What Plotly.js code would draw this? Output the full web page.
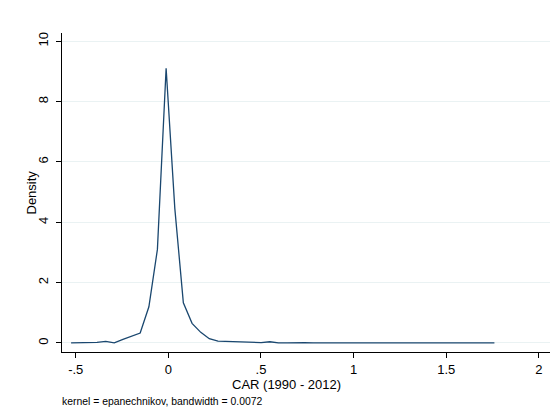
<!DOCTYPE html>
<html>
<head>
<meta charset="utf-8">
<script src="https://cdn.plot.ly/plotly-3.0.1.min.js"></script>
<style>html,body{margin:0;padding:0;background:#fff;}#chart{width:559px;height:414px;}</style>
</head>
<body>
<div id="chart"></div>
<script>
// Kernel density estimate points (CAR 1990-2012)
const carX = [-0.525,-0.478,-0.432,-0.385,-0.338,-0.292,-0.245,-0.198,-0.152,-0.105,
  -0.059,-0.012,0.035,0.081,0.128,0.175,0.221,0.268,0.315,0.361,
  0.408,0.454,0.501,0.548,0.594,0.641,0.688,0.734,0.781,0.827,
  0.874,0.921,0.967,1.014,1.061,1.107,1.154,1.200,1.247,1.294,
  1.340,1.387,1.434,1.480,1.527,1.573,1.620,1.667,1.713,1.760];
const density = [0.00,0.00,0.00,0.02,0.05,0.00,0.12,0.22,0.33,1.20,
  3.10,9.10,4.45,1.33,0.65,0.35,0.14,0.06,0.05,0.04,
  0.01,0.00,0.01,0.04,0.00,0.00,0.01,0.01,0.00,0.00,
  0.00,0.00,0.00,0.00,0.00,0.00,0.00,0.00,0.00,0.00,
  0.00,0.00,0.00,0.00,0.00,0.00,0.00,0.00,0.00,0.00];
const xTickVals = [-0.5,0,0.5,1,1.5,2];
const xTickText = ['-.5','0','.5','1','1.5','2'];
const yTickVals = [0,2,4,6,8,10];
const yTickText = ['0','2','4','6','8','10'];

const font = {family:'Liberation Sans, Arial, sans-serif', size:13, color:'#000'};

Plotly.newPlot('chart', [{
  x: carX, y: density, type:'scatter', mode:'lines',
  line:{color:'#1a476f', width:1.3}, hoverinfo:'skip'
}], {
  width:559, height:414,
  margin:{l:62, r:9, t:33, b:62},
  paper_bgcolor:'#fff', plot_bgcolor:'#fff',
  showlegend:false,
  font: font,
  xaxis:{
    range:[-0.574, 2.06], tickvals:xTickVals, ticktext:xTickText,
    showgrid:false, zeroline:false, showline:true, linecolor:'#000', linewidth:1,
    ticks:'outside', ticklen:5, tickcolor:'#000', tickwidth:1, tickfont:font
  },
  yaxis:{
    range:[-0.3, 10.27], tickvals:yTickVals, ticktext:yTickText, tickangle:-90,
    showgrid:true, gridcolor:'#eaf2f3', gridwidth:1, zeroline:false,
    showline:true, linecolor:'#000', linewidth:1, ticklabelstandoff:3,
    ticks:'outside', ticklen:5, tickcolor:'#000', tickwidth:1, tickfont:font
  },
  annotations:[
    {text:'CAR (1990 - 2012)', xref:'paper', yref:'paper', x:(286-62)/488, y:-(384-352)/319,
     xanchor:'center', yanchor:'middle', showarrow:false, font:{family:font.family, size:13, color:'#000'}},
    {text:'Density', xref:'paper', yref:'paper', x:-(62-31)/488, y:0.5, textangle:-90,
     xanchor:'center', yanchor:'middle', showarrow:false, font:{family:font.family, size:13, color:'#000'}},
    {text:'kernel = epanechnikov, bandwidth = 0.0072', xref:'paper', yref:'paper', x:-(62-60)/488, y:-(401-352)/319,
     xanchor:'left', yanchor:'middle', showarrow:false, font:{family:font.family, size:10.4, color:'#000'}}
  ]
}, {staticPlot:true, displayModeBar:false});
</script>
</body>
</html>
